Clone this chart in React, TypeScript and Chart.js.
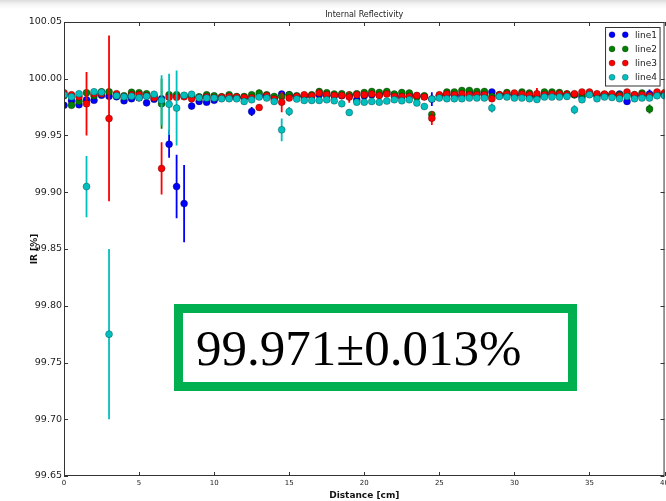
import { useEffect, useRef } from "react";
import { Chart, registerables } from "chart.js";

Chart.register(...registerables);

// Measurement positions along the sample [cm]
const distance = [
  0, 0.5, 1, 1.5, 2, 2.5, 3, 3.5, 4, 4.5,
  5, 5.5, 6, 6.5, 7, 7.5, 8, 8.5, 9, 9.5,
  10, 10.5, 11, 11.5, 12, 12.5, 13, 13.5, 14, 14.5,
  15, 15.5, 16, 16.5, 17, 17.5, 18, 18.5, 19, 19.5,
  20, 20.5, 21, 21.5, 22, 22.5, 23, 23.5, 24, 24.5,
  25, 25.5, 26, 26.5, 27, 27.5, 28, 28.5, 29, 29.5,
  30, 30.5, 31, 31.5, 32, 32.5, 33, 33.5, 34, 34.5,
  35, 35.5, 36, 36.5, 37, 37.5, 38, 38.5, 39, 39.5,
  40,
];

// Internal reflectivity [%] per line
const line1 = [
  99.9766, 99.9806, 99.9771, 99.9815, 99.981, 99.9854, 99.9846, 99.9841, 99.9806, 99.9824,
  99.9832, 99.9788, 99.9819, 99.9824, 99.9424, 99.905, 99.89, 99.9759, 99.98, 99.9794,
  99.981, 99.9832, 99.9832, 99.9832, 99.9832, 99.9712, 99.985, 99.985, 99.9832, 99.9865,
  99.9859, 99.9841, 99.985, 99.985, 99.9859, 99.985, 99.985, 99.985, 99.985, 99.9815,
  99.985, 99.9859, 99.9859, 99.9877, 99.9859, 99.9839, 99.9859, 99.985, 99.9844, 99.9821,
  99.985, 99.9859, 99.9859, 99.985, 99.9877, 99.9868, 99.9868, 99.9883, 99.985, 99.9859,
  99.9859, 99.9859, 99.985, 99.9841, 99.9859, 99.9868, 99.9859, 99.9859, 99.9859, 99.9839,
  99.9868, 99.985, 99.9859, 99.9859, 99.9865, 99.98, 99.985, 99.985, 99.9865, 99.9859,
  99.9859,
];
const line1Err = [
  0.002, 0.002, 0.002, 0.002, 0.002, 0.002, 0.002, 0.002, 0.002, 0.002,
  0.002, 0.003, 0.002, 0.002, 0.012, 0.028, 0.034, 0.003, 0.002, 0.002,
  0.002, 0.002, 0.002, 0.002, 0.002, 0.004, 0.002, 0.002, 0.002, 0.002,
  0.002, 0.002, 0.002, 0.002, 0.002, 0.002, 0.002, 0.002, 0.002, 0.002,
  0.002, 0.002, 0.002, 0.002, 0.002, 0.002, 0.002, 0.002, 0.002, 0.006,
  0.002, 0.002, 0.002, 0.002, 0.002, 0.002, 0.002, 0.002, 0.002, 0.002,
  0.002, 0.002, 0.002, 0.002, 0.002, 0.002, 0.002, 0.002, 0.002, 0.002,
  0.002, 0.002, 0.002, 0.002, 0.002, 0.003, 0.002, 0.002, 0.004, 0.002,
  0.002,
];

const line2 = [
  99.985, 99.9766, 99.9802, 99.9877, 99.985, 99.9885, 99.9885, 99.9859, 99.985, 99.9881,
  99.9877, 99.9868, 99.985, 99.978, 99.9859, 99.9859, 99.985, 99.985, 99.9841, 99.9859,
  99.985, 99.9841, 99.9859, 99.9844, 99.9844, 99.9859, 99.9874, 99.9859, 99.9844, 99.9844,
  99.9859, 99.985, 99.9844, 99.9859, 99.9888, 99.9877, 99.9865, 99.9868, 99.9859, 99.9868,
  99.9879, 99.9888, 99.9879, 99.9888, 99.9865, 99.9879, 99.9874, 99.9839, 99.985, 99.9685,
  99.985, 99.9883, 99.9883, 99.9897, 99.9897, 99.9888, 99.9888, 99.9844, 99.9859, 99.9879,
  99.9859, 99.9883, 99.9874, 99.9844, 99.9883, 99.9883, 99.9879, 99.9868, 99.9859, 99.9859,
  99.9868, 99.9859, 99.9859, 99.9859, 99.9859, 99.9859, 99.9859, 99.9874, 99.9733, 99.9868,
  99.9868,
];
const line2Err = [
  0.002, 0.002, 0.002, 0.002, 0.002, 0.002, 0.002, 0.002, 0.002, 0.002,
  0.002, 0.002, 0.002, 0.022, 0.002, 0.002, 0.002, 0.002, 0.002, 0.002,
  0.002, 0.002, 0.002, 0.002, 0.002, 0.002, 0.003, 0.002, 0.002, 0.002,
  0.002, 0.002, 0.002, 0.002, 0.003, 0.002, 0.002, 0.002, 0.002, 0.002,
  0.002, 0.002, 0.002, 0.002, 0.002, 0.002, 0.002, 0.002, 0.002, 0.003,
  0.002, 0.002, 0.002, 0.002, 0.002, 0.002, 0.002, 0.002, 0.002, 0.002,
  0.002, 0.002, 0.002, 0.002, 0.002, 0.002, 0.002, 0.002, 0.002, 0.002,
  0.002, 0.002, 0.002, 0.002, 0.002, 0.002, 0.002, 0.002, 0.004, 0.002,
  0.002,
];

const line3 = [
  99.9877, 99.9859, 99.9841, 99.978, 99.9868, 99.9868, 99.965, 99.9868, 99.9841, 99.9859,
  99.9859, 99.985, 99.9832, 99.921, 99.9837, 99.9837, 99.9841, 99.9824, 99.9832, 99.9841,
  99.9832, 99.9839, 99.9844, 99.9839, 99.9835, 99.9832, 99.9747, 99.985, 99.9821, 99.9794,
  99.983, 99.9844, 99.9859, 99.985, 99.9874, 99.9859, 99.9853, 99.9853, 99.9839, 99.9859,
  99.9859, 99.9865, 99.9853, 99.9865, 99.9844, 99.9844, 99.9844, 99.9853, 99.9839, 99.9653,
  99.9859, 99.9865, 99.9859, 99.9868, 99.9859, 99.9859, 99.9859, 99.9824, 99.9859, 99.9865,
  99.9874, 99.9865, 99.9859, 99.9868, 99.9859, 99.9865, 99.9865, 99.9859, 99.9868, 99.9883,
  99.9883, 99.9868, 99.9865, 99.9868, 99.985, 99.9883, 99.9859, 99.9859, 99.985, 99.9883,
  99.9877,
];
const line3Err = [
  0.002, 0.002, 0.002, 0.028, 0.002, 0.002, 0.073, 0.002, 0.002, 0.002,
  0.002, 0.002, 0.002, 0.023, 0.002, 0.002, 0.002, 0.002, 0.002, 0.002,
  0.002, 0.002, 0.002, 0.002, 0.002, 0.002, 0.002, 0.002, 0.002, 0.009,
  0.002, 0.002, 0.002, 0.002, 0.002, 0.002, 0.002, 0.002, 0.005, 0.002,
  0.002, 0.002, 0.002, 0.002, 0.002, 0.002, 0.002, 0.002, 0.002, 0.006,
  0.002, 0.002, 0.002, 0.002, 0.002, 0.002, 0.002, 0.002, 0.002, 0.002,
  0.002, 0.002, 0.002, 0.005, 0.002, 0.002, 0.002, 0.004, 0.002, 0.002,
  0.002, 0.002, 0.002, 0.002, 0.002, 0.002, 0.002, 0.002, 0.002, 0.002,
  0.002,
];

const line4 = [
  99.9859, 99.9841, 99.9868, 99.905, 99.9885, 99.9881, 99.775, 99.985, 99.9841, 99.9846,
  99.9832, 99.9846, 99.9863, 99.981, 99.9775, 99.9742, 99.9854, 99.9863, 99.9832, 99.983,
  99.983, 99.9824, 99.9824, 99.9824, 99.98, 99.9815, 99.9839, 99.983, 99.98, 99.955,
  99.9712, 99.9821, 99.9809, 99.9809, 99.9809, 99.9815, 99.9806, 99.978, 99.9703, 99.9794,
  99.9794, 99.98, 99.9794, 99.9803, 99.9815, 99.9806, 99.9815, 99.9786, 99.9756, 99.9821,
  99.983, 99.9824, 99.9824, 99.9824, 99.983, 99.983, 99.983, 99.9742, 99.9844, 99.9839,
  99.983, 99.983, 99.9824, 99.9817, 99.9839, 99.9839, 99.9839, 99.9844, 99.9727, 99.9815,
  99.9859, 99.9824, 99.9839, 99.9835, 99.9824, 99.9844, 99.9824, 99.983, 99.983, 99.985,
  99.985,
];
const line4Err = [
  0.002, 0.002, 0.002, 0.027, 0.002, 0.002, 0.075, 0.002, 0.002, 0.002,
  0.002, 0.002, 0.002, 0.022, 0.027, 0.033, 0.002, 0.002, 0.002, 0.002,
  0.002, 0.002, 0.002, 0.002, 0.003, 0.002, 0.002, 0.002, 0.002, 0.01,
  0.004, 0.002, 0.002, 0.002, 0.002, 0.002, 0.002, 0.002, 0.003, 0.002,
  0.002, 0.002, 0.002, 0.002, 0.002, 0.002, 0.002, 0.002, 0.002, 0.002,
  0.002, 0.002, 0.002, 0.002, 0.002, 0.002, 0.002, 0.004, 0.002, 0.002,
  0.002, 0.002, 0.002, 0.002, 0.002, 0.002, 0.002, 0.002, 0.004, 0.002,
  0.002, 0.002, 0.002, 0.002, 0.002, 0.002, 0.002, 0.002, 0.002, 0.002,
  0.002,
];

const seriesNames = ["line1", "line2", "line3", "line4"];
const seriesValues = [line1, line2, line3, line4];
const seriesErrors = [line1Err, line2Err, line3Err, line4Err];
const seriesColors = ["#0000ff", "#008000", "#ff0000", "#00bfbf"];

const xTicks = [0, 5, 10, 15, 20, 25, 30, 35, 40];
const yTicks = [99.65, 99.7, 99.75, 99.8, 99.85, 99.9, 99.95, 100.0, 100.05];

const chartTitle = "Internal Reflectivity";
const xTitle = "Distance [cm]";
const yTitle = "IR [%]";
const resultText = "99.971\u00b10.013%";

const SANS = "'DejaVu Sans', sans-serif";

// Vertical error bars, drawn just before each dataset's markers
const errorBarPlugin = {
  id: "errorBars",
  beforeDatasetDraw(chart: any, args: any) {
    const ds = chart.data.datasets[args.index];
    const errs: number[] = ds.errors;
    if (!errs) return;
    const { ctx, chartArea, scales } = chart;
    ctx.save();
    ctx.beginPath();
    ctx.rect(chartArea.left, chartArea.top, chartArea.right - chartArea.left, chartArea.bottom - chartArea.top);
    ctx.clip();
    ctx.strokeStyle = ds.backgroundColor;
    ctx.lineWidth = 1.8;
    ds.data.forEach((p: any, j: number) => {
      const px = scales.x.getPixelForValue(p.x);
      ctx.beginPath();
      ctx.moveTo(px, scales.y.getPixelForValue(p.y - errs[j]));
      ctx.lineTo(px, scales.y.getPixelForValue(p.y + errs[j]));
      ctx.stroke();
    });
    ctx.restore();
  },
};

// Axes box, inward ticks, title and legend
const framePlugin = {
  id: "frame",
  afterDraw(chart: any) {
    const { ctx, chartArea, scales } = chart;
    const { left, right, top, bottom } = chartArea;
    ctx.save();
    ctx.strokeStyle = "#333";
    ctx.lineWidth = 1;
    ctx.strokeRect(left + 0.5, top + 0.5, right - left - 1, bottom - top - 1);
    const tl = 4;
    ctx.beginPath();
    xTicks.forEach((v) => {
      const x = Math.round(scales.x.getPixelForValue(v)) + 0.5;
      ctx.moveTo(x, bottom);
      ctx.lineTo(x, bottom - tl);
      ctx.moveTo(x, top);
      ctx.lineTo(x, top + tl);
    });
    yTicks.forEach((v) => {
      const y = Math.round(scales.y.getPixelForValue(v)) + 0.5;
      ctx.moveTo(left, y);
      ctx.lineTo(left + tl, y);
      ctx.moveTo(right, y);
      ctx.lineTo(right - tl, y);
    });
    ctx.stroke();

    // title
    ctx.fillStyle = "#222";
    ctx.font = `8px ${SANS}`;
    ctx.textAlign = "center";
    ctx.textBaseline = "middle";
    ctx.fillText(chartTitle, (left + right) / 2, 15);

    // legend
    const lr = right - 4;
    const ll = lr - 55.5;
    const lt = top + 5;
    const lh = 59.5;
    ctx.fillStyle = "#fff";
    ctx.fillRect(ll, lt, lr - ll, lh);
    ctx.strokeStyle = "#333";
    ctx.strokeRect(ll + 0.5, lt + 0.5, lr - ll - 1, lh - 1);
    ctx.font = `9px ${SANS}`;
    ctx.textAlign = "left";
    seriesNames.forEach((name, k) => {
      const cy = lt + 7.7 + k * 14.2;
      [ll + 7, ll + 20.2].forEach((cx) => {
        ctx.beginPath();
        ctx.arc(cx, cy, 3, 0, Math.PI * 2);
        ctx.fillStyle = seriesColors[k];
        ctx.fill();
        ctx.strokeStyle = "rgba(0,0,0,0.5)";
        ctx.lineWidth = 0.5;
        ctx.stroke();
      });
      ctx.fillStyle = "#222";
      ctx.fillText(name, ll + 30, cy + 0.5);
    });
    ctx.restore();
  },
};

export default function App() {
  const canvasRef = useRef<HTMLCanvasElement | null>(null);

  useEffect(() => {
    const canvas = canvasRef.current;
    if (!canvas) return;
    const datasets = seriesNames.map((name, k) => ({
      label: name,
      data: distance.map((x, j) => ({ x, y: seriesValues[k][j] })),
      errors: seriesErrors[k],
      backgroundColor: seriesColors[k],
      borderColor: "rgba(0,0,0,0.55)",
      borderWidth: 0.5,
      pointRadius: 3.5,
      pointHoverRadius: 3.5,
      showLine: false,
      order: seriesNames.length - k,
    }));

    const chart = new Chart(canvas, {
      type: "scatter",
      data: { datasets } as any,
      options: {
        responsive: false,
        animation: false,
        events: [],
        layout: { padding: { top: 22, right: 3, left: 0, bottom: 0 } },
        plugins: {
          legend: { display: false },
          tooltip: { enabled: false },
          title: { display: false },
        },
        scales: {
          x: {
            type: "linear",
            min: 0,
            max: 40,
            afterBuildTicks: (s: any) => {
              s.ticks = xTicks.map((value) => ({ value }));
            },
            afterFit: (s: any) => {
              s.height = 25;
            },
            grid: { display: false, drawTicks: false },
            border: { display: false },
            ticks: {
              autoSkip: false,
              maxRotation: 0,
              padding: 3,
              color: "#222",
              font: { size: 7, family: SANS },
              callback: (v: any) => String(v),
            },
            title: {
              display: true,
              text: xTitle,
              color: "#111",
              padding: 0,
              font: { size: 9, weight: "bold", family: SANS },
            },
          },
          y: {
            type: "linear",
            min: 99.65,
            max: 100.05,
            afterBuildTicks: (s: any) => {
              s.ticks = yTicks.map((value) => ({ value }));
            },
            afterFit: (s: any) => {
              s.width = 64;
            },
            grid: { display: false, drawTicks: false },
            border: { display: false },
            ticks: {
              autoSkip: false,
              padding: 2,
              color: "#222",
              font: { size: 9.5, family: SANS },
              callback: (v: any) => Number(v).toFixed(2),
            },
            title: {
              display: true,
              text: yTitle,
              color: "#111",
              padding: { top: 29.6, bottom: 0 },
              font: { size: 9, weight: "bold", family: SANS },
            },
          },
        },
      } as any,
      plugins: [errorBarPlugin, framePlugin],
    });
    return () => chart.destroy();
  }, []);

  return (
    <div
      style={{
        position: "fixed",
        left: 0,
        top: 0,
        width: 666,
        height: 501,
        overflow: "hidden",
        background: "linear-gradient(to bottom, #dcdcdc 0px, #f3f3f3 4px, #ffffff 9px)",
      }}
    >
      <canvas
        ref={canvasRef}
        width={672}
        height={501}
        style={{ position: "absolute", left: 0, top: 0, width: 672, height: 501 }}
      />
      <div
        style={{
          position: "absolute",
          left: 174,
          top: 304,
          width: 403,
          height: 87,
          boxSizing: "border-box",
          border: "9.5px solid #00b050",
          background: "#fff",
        }}
      >
        <span
          style={{
            position: "absolute",
            left: 13,
            top: 9.6,
            fontFamily: "'Liberation Serif', serif",
            fontSize: 51,
            lineHeight: "51px",
            color: "#000",
            whiteSpace: "nowrap",
          }}
        >
          {resultText}
        </span>
      </div>
    </div>
  );
}
